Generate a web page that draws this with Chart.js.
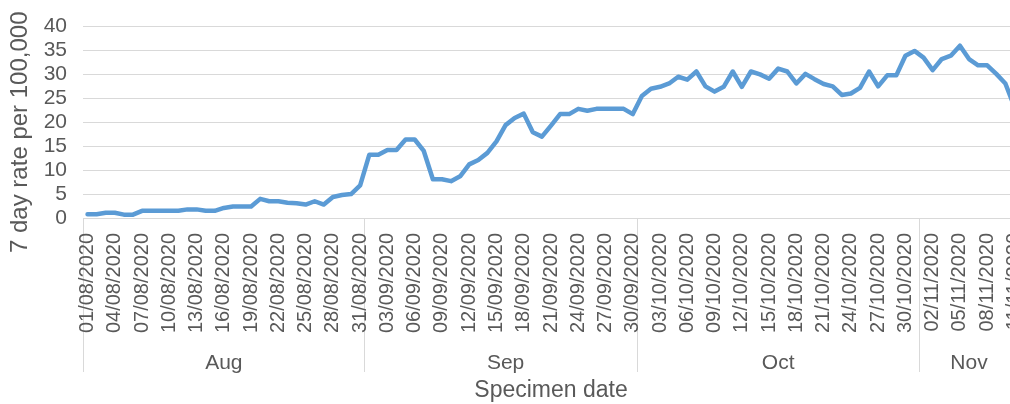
<!DOCTYPE html>
<html>
<head>
<meta charset="utf-8">
<script src="https://cdn.jsdelivr.net/npm/chart.js@4.4.0/dist/chart.umd.min.js"></script>
<style>
  html, body { margin: 0; padding: 0; background: #fff; overflow: hidden; }
  #wrap { width: 1019px; height: 404px; }
</style>
</head>
<body>
<div id="wrap"><canvas id="rateChart"></canvas></div>
<script>
// months shown on the axis, with the number of days plotted in each
const monthNames = ["Aug", "Sep", "Oct", "Nov"];
const monthNumbers = ["08", "09", "10", "11"];
const monthDays = [31, 30, 31, 11];

// 7 day rate per 100,000, one value per specimen date
const augRates = [0.8, 0.8, 1.1, 1.1, 0.7, 0.7, 1.5, 1.5, 1.5, 1.5, 1.5, 1.8, 1.8, 1.5, 1.5, 2.1,
  2.4, 2.4, 2.4, 4.0, 3.5, 3.5, 3.2, 3.1, 2.8, 3.5, 2.8, 4.4, 4.8, 5.0, 6.8];
const sepRates = [13.2, 13.2, 14.2, 14.2, 16.4, 16.4, 14.0, 8.1, 8.1, 7.7, 8.7, 11.2, 12.1, 13.6, 16.0,
  19.4, 20.9, 21.8, 17.9, 17.0, 19.3, 21.7, 21.7, 22.8, 22.4, 22.8, 22.8, 22.8, 22.8, 21.7];
const octRates = [25.5, 27.0, 27.4, 28.1, 29.5, 28.9, 30.6, 27.5, 26.4, 27.4, 30.6, 27.4, 30.6, 30.0, 29.1,
  31.2, 30.6, 28.1, 30.1, 29.0, 28.0, 27.5, 25.7, 26.0, 27.2, 30.6, 27.5, 29.8, 29.8, 33.9, 34.9];
const novRates = [33.5, 30.9, 33.2, 33.9, 36.0, 33.2, 31.9, 31.9, 30.1, 28.1, 23.2];

const yTicks = { min: 0, max: 40, step: 5 };

// build the daily category labels
const dates = [];
const monthStarts = [];
const monthMids = {};
monthDays.forEach((days, m) => {
  const start = dates.length;
  monthStarts.push(start);
  monthMids[start + Math.round((days - 1) / 2)] = monthNames[m];
  for (let d = 1; d <= days; d++) {
    dates.push(String(d).padStart(2, "0") + "/" + monthNumbers[m] + "/2020");
  }
});
monthStarts.push(dates.length);
const rates = augRates.concat(sepRates, octRates, novRates);

const textColor = "#595959";
const gridColor = "#d9d9d9";
const fontFamily = "Liberation Sans, Arial";

const ctx = document.getElementById("rateChart").getContext("2d");
const chart = new Chart(ctx, {
  type: "line",
  data: {
    labels: dates,
    datasets: [
      {
        label: "7 day rate per 100,000",
        data: rates,
        borderColor: "#5b9bd5",
        borderWidth: 4.5,
        pointRadius: 0,
        tension: 0,
        fill: false,
        borderJoinStyle: "round",
        borderCapStyle: "round",
        xAxisID: "x",
      },
    ],
  },
  options: {
    responsive: true,
    maintainAspectRatio: false,
    animation: false,
    layout: { padding: { top: 15, right: 0, bottom: 0, left: 0 } },
    plugins: {
      legend: { display: false },
      tooltip: { enabled: false },
    },
    scales: {
      x: {
        type: "category",
        position: "bottom",
        offset: true,
        grid: {
          offset: true,
          drawOnChartArea: false,
          tickLength: 154,
          color: (c) => (monthStarts.includes(c.index) ? gridColor : "rgba(0,0,0,0)"),
        },
        border: { display: false },
        ticks: {
          autoSkip: false,
          maxRotation: 90,
          minRotation: 90,
          padding: -139,
          color: textColor,
          font: { family: fontFamily, size: 20 },
          callback: function (value, index) {
            return index % 3 === 0 ? dates[index] : "";
          },
        },
        afterFit: (s) => { s.height = 125; },
      },
      month: {
        type: "category",
        position: "bottom",
        offset: true,
        labels: dates,
        grid: { display: false },
        border: { display: false },
        ticks: {
          autoSkip: false,
          maxRotation: 0,
          minRotation: 0,
          padding: 0,
          color: textColor,
          font: { family: fontFamily, size: 21 },
          callback: function (value, index) {
            return monthMids[index] || "";
          },
        },
        title: {
          display: true,
          text: "Specimen date",
          color: textColor,
          font: { family: fontFamily, size: 23 },
          padding: { top: 0, bottom: 0 },
        },
        afterFit: (s) => { s.height = 61; },
      },
      y: {
        min: yTicks.min,
        max: yTicks.max,
        grid: { color: gridColor, drawTicks: false },
        border: { display: false },
        ticks: {
          stepSize: yTicks.step,
          autoSkip: false,
          padding: 16,
          color: textColor,
          font: { family: fontFamily, size: 21, lineHeight: 1 },
        },
        title: {
          display: true,
          text: "7 day rate per 100,000   ",
          color: textColor,
          font: { family: fontFamily, size: 24 },
          padding: { top: 6, bottom: 0 },
        },
        afterFit: (s) => { s.width = 83; },
      },
    },
  },
});
</script>
</body>
</html>
